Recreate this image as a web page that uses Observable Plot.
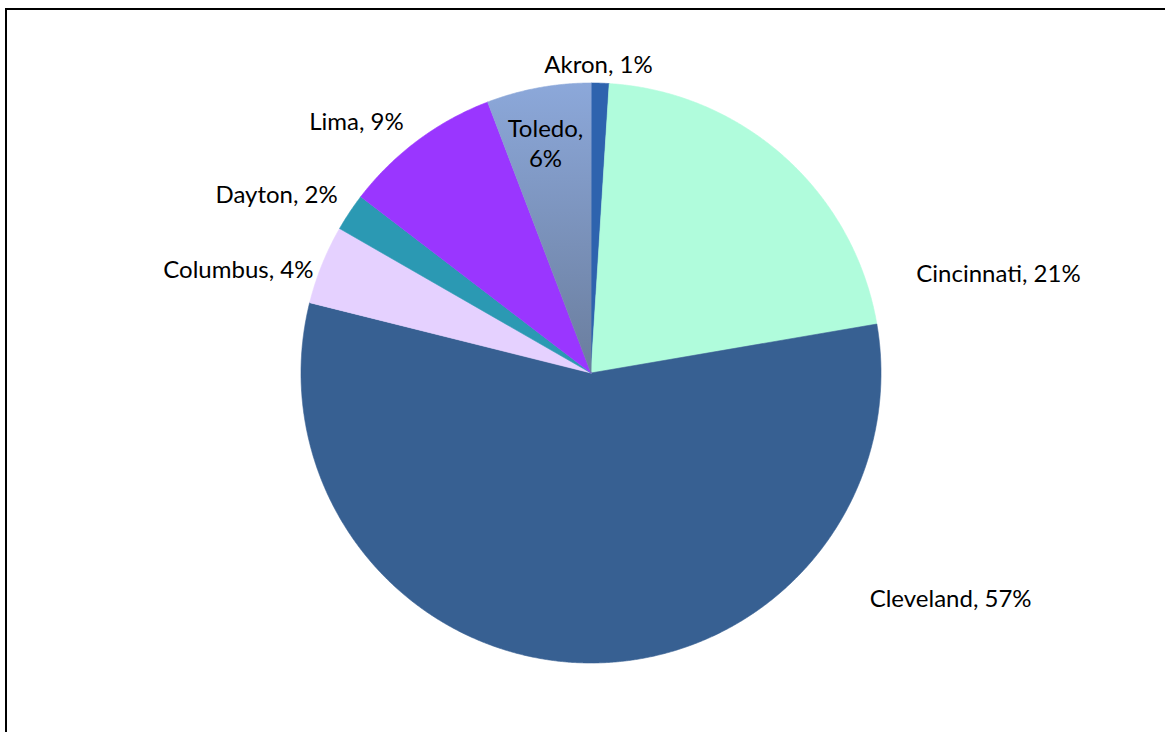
<!DOCTYPE html>
<html><head><meta charset="utf-8">
<script src="https://cdn.jsdelivr.net/npm/d3@7"></script>
<script src="https://cdn.jsdelivr.net/npm/@observablehq/plot@0.6"></script>
<style>
body{margin:0;background:#fff;}
#wrap{position:relative;width:1165px;height:732px;overflow:hidden;background:#fff;}
#wrap svg{position:absolute;left:0;top:0;}
#frame{position:absolute;left:5px;top:8px;width:1200px;height:800px;border-top:2px solid #000;border-left:2px solid #000;pointer-events:none;}
</style></head><body><div id="wrap"></div>
<script>
// Data (clockwise from 12 o'clock)
const cities = ["Akron", "Cincinnati", "Cleveland", "Columbus", "Dayton", "Lima", "Toledo"];
const shares = [1.0, 21.3, 56.6, 4.4, 2.1, 8.8, 5.8];
const labels = ["Akron, 1%", "Cincinnati, 21%", "Cleveland, 57%", "Columbus, 4%", "Dayton, 2%", "Lima, 9%", "Toledo,\n6%"];
const colors = ["#2E63AE", "#B0FCDC", "#376092", "#E5D1FF", "#2B99B3", "#9A36FF", "url(#toledoGrad)"];
// label centres in pie-radius units
const labelX = [0.026, 1.405, 1.240, -1.216, -1.084, -0.809, -0.157];
const labelY = [1.067, 0.347, -0.774, 0.360, 0.619, 0.871, 0.795];

const arcs = d3.pie().sort(null).value(d => d)(shares);
const pts = [];
arcs.forEach((a, i) => {
  pts.push({city: cities[i], x: 0, y: 0});
  const n = Math.max(2, Math.ceil((a.endAngle - a.startAngle) / 0.004));
  for (let k = 0; k <= n; k++) {
    const t = a.startAngle + (a.endAngle - a.startAngle) * k / n;
    pts.push({city: cities[i], x: Math.sin(t), y: Math.cos(t)});
  }
});
const labelData = cities.map((c, i) => ({city: c, text: labels[i], x: labelX[i], y: labelY[i]}));

const defs = () => {
  const d = d3.create("svg:defs");
  const g = d.append("linearGradient").attr("id", "toledoGrad").attr("x1", 0).attr("y1", 0).attr("x2", 0).attr("y2", 1);
  g.append("stop").attr("offset", "0%").attr("stop-color", "#8CA8DA");
  g.append("stop").attr("offset", "100%").attr("stop-color", "#6A7D9D");
  return d.node();
};

const chart = Plot.plot({
  width: 1165,
  height: 732,
  marginLeft: 300.5,
  marginRight: 284.5,
  marginTop: 82.5,
  marginBottom: 69.5,
  x: {domain: [-1, 1], axis: null},
  y: {domain: [-1, 1], axis: null},
  color: {domain: cities, range: colors},
  style: {background: "transparent", overflow: "visible"},
  marks: [
    defs,
    Plot.line(pts, {x: "x", y: "y", z: "city", fill: "city", stroke: "city", strokeWidth: 0.6, curve: "linear-closed"}),
    Plot.text(labelData, {x: "x", y: "y", text: "text", fontSize: 24, fontFamily: "Lato", fill: "#000", lineHeight: 1.25, textAnchor: "middle"})
  ]
});
const wrap = document.getElementById("wrap");
wrap.appendChild(chart);
const frame = document.createElement("div");
frame.id = "frame";
wrap.appendChild(frame);
</script>
</body></html>
